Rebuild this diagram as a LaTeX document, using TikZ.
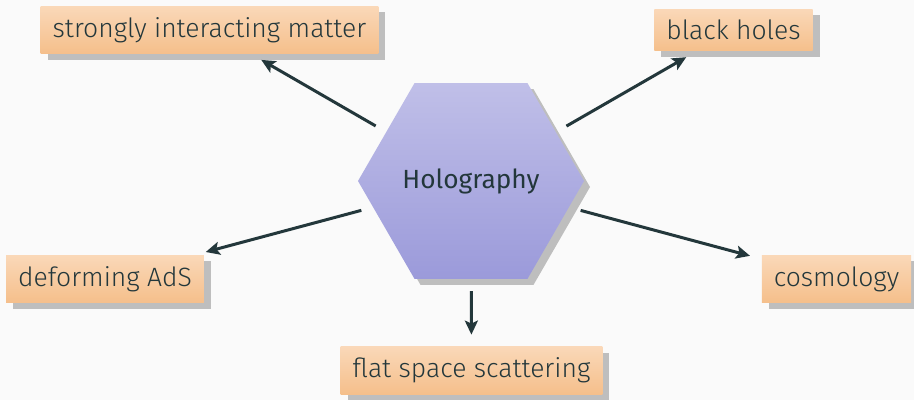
\documentclass[tikz,border=0pt]{standalone}
\usepackage{fontspec}
\setmainfont{Fira Sans Light}
\newfontfamily\hubfont{Fira Sans}
\usetikzlibrary{shapes.geometric,shadows,arrows.meta}
\definecolor{bgc}{RGB}{250,250,250}
\definecolor{ink}{RGB}{35,55,59}
\definecolor{hextop}{RGB}{192,191,232}
\definecolor{hexbot}{RGB}{155,154,218}
\definecolor{boxtop}{RGB}{250,216,184}
\definecolor{boxbot}{RGB}{245,191,139}
\definecolor{shad}{RGB}{190,190,190}
\tikzset{
  shad/.style={drop shadow={shadow xshift=7pt,shadow yshift=-6pt,fill=shad,opacity=1}},
  topic/.style={rectangle,top color=boxtop,bottom color=boxbot,inner xsep=12pt,inner ysep=11pt,
    text=ink,font=\fontsize{26.5}{30}\selectfont,shad},
  hub/.style={regular polygon,regular polygon sides=6,shape border rotate=0,minimum size=226pt,
    inner sep=0pt,top color=hextop,bottom color=hexbot,text=ink,font=\hubfont\fontsize{26.3}{31}\selectfont,
    drop shadow={shadow xshift=6pt,shadow yshift=-6pt,fill=shad,opacity=1}},
  link/.style={draw=ink,line width=3pt,-{Stealth[length=14pt,width=13pt,inset=3pt]},shorten <=12pt,shorten >=12pt}
}
\begin{document}
\begin{tikzpicture}[x=1pt,y=-1pt]
\useasboundingbox[fill=bgc] (0,0) rectangle (914,400);
\node[hub] (h) at (471,181) {Holography};
\node[topic] (s) at (209.5,30) {strongly interacting matter};
\node[topic] (b) at (733.5,30) {black holes};
\node[topic] (d) at (105,279) {deforming AdS};
\node[topic] (c) at (836.5,279) {cosmology};
\node[topic] (f) at (471.5,370.5) {flat space scattering};
\draw[link] (h) -- (s);
\draw[link] (h) -- (b);
\draw[link] (h) -- (d);
\draw[link] (h) -- (c);
\draw[link] (h) -- (f);
\end{tikzpicture}
\end{document}
